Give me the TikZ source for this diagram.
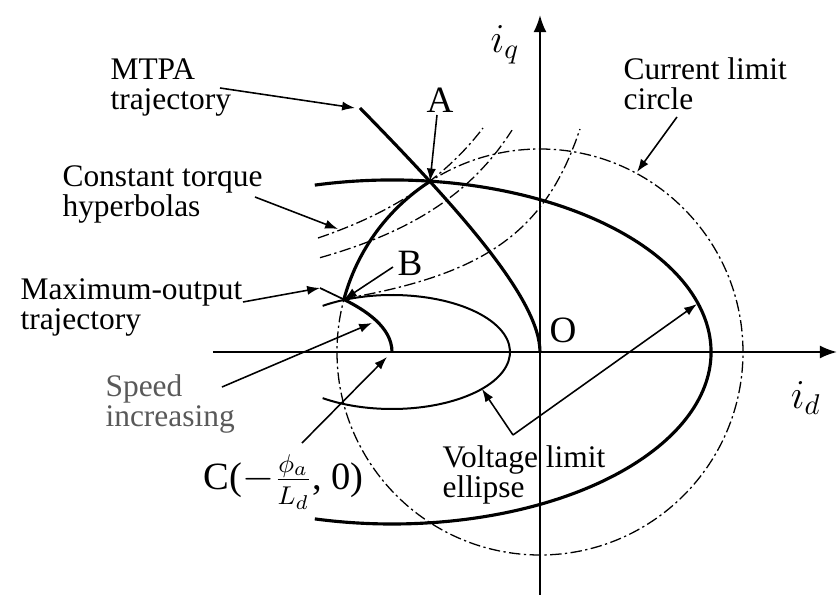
\documentclass[tikz,border=0pt]{standalone}
\usepackage{fontspec}
\setmainfont{Liberation Serif}
\usetikzlibrary{arrows.meta,calc}

\tikzset{
  curve/.style={line width=1.1pt},
  thincurve/.style={line width=0.7pt},
  torque/.style={line width=0.45pt,dash pattern=on 4pt off 1.2pt on 0.8pt off 1.2pt},
  lead/.style={line width=0.55pt,-{Latex[length=4.5pt,width=3.2pt]}},
  axis/.style={line width=0.75pt,-{Latex[length=6pt,width=4.6pt]}},
  lbl/.style={font=\fontsize{11}{10.8}\selectfont,align=left,inner sep=0pt,anchor=base west},
  pt/.style={font=\fontsize{13}{14}\selectfont,inner sep=0pt},
}

\begin{document}
\begin{tikzpicture}[x=0.35pt,y=0.35pt]
\useasboundingbox (-540,-247) rectangle (299,352);
\coordinate (O) at (0,0);
\coordinate (C) at (-148,0);
\coordinate (A) at (122.8:203);
\coordinate (B) at (165:203);
\coordinate (Bx) at (-220,64);
\coordinate (M) at (-180,244);
\coordinate (xs) at (-327,0);
\coordinate (xe) at (297,0);
\coordinate (ys) at (0,-243);
\coordinate (ye) at (0,337);
\draw[axis] (xs) -- (xe);
\draw[axis] (ys) -- (ye);
\draw[torque] (O) circle[radius=203];
\draw[torque] plot[domain=-222:-57,samples=40] (\x,{383/(1.14-\x/100)});
\draw[torque] plot[domain=-220:-28,samples=40] (\x,{315/(1.14-\x/100)});
\draw[torque] plot[domain=-196:40,samples=50] (\x,{165/(1.14-\x/100)});
\draw[curve] (C) ++(104:319 and 172) arc[start angle=104,end angle=-104,x radius=319,y radius=172];
\draw[thincurve] (C) ++(126:118 and 57) arc[start angle=126,end angle=-126,x radius=118,y radius=57];
\draw[curve] (O) .. controls (0,52) and (-80,142) .. (M);
\draw[curve] (A) arc[start angle=122.8,end angle=165,radius=203];
\draw[curve] (B) .. controls (-175,42) and (-148,25) .. (C);
\draw[line width=0.6pt] (Bx) -- (B);
\node[lbl] (mtpa) at (-430,242) {MTPA\\trajectory};
\node[lbl] (torq) at (-478,135) {Constant torque\\hyperbolas};
\node[lbl] (mout) at (-520,22) {Maximum-output\\trajectory};
\node[lbl,text=black!65] (spd) at (-435,-75) {Speed\\increasing};
\node[lbl] (volt) at (-98,-146) {Voltage limit\\ellipse};
\node[lbl] (curr) at (83,242) {Current limit\\circle};
\node[pt] (la) at (-100,252) {A};
\node[pt] (lb) at (-130,89) {B};
\node[pt] (lo) at (23,22) {O};
\node[font=\Large,inner sep=0pt] (liq) at (-35,307) {$i_q$};
\node[font=\Large,inner sep=0pt] (lid) at (266,-46) {$i_d$};
\node[anchor=west,inner sep=0pt,font=\fontsize{13.5}{16}\selectfont] (lc) at (-337,-130) {C($-\frac{\phi_a}{L_d}$, 0)};
\coordinate (mtpa1) at (-320,264);
\coordinate (torq1) at (-285,155);
\coordinate (torq2) at (-202,123);
\coordinate (mout1) at (-297,50);
\coordinate (spd1) at (-318,-35);
\coordinate (spd2) at (-168,29);
\coordinate (lc1) at (-238,-91);
\coordinate (lc2) at (-153,-5);
\coordinate (la1) at (-103,237);
\coordinate (lb1) at (-147,85);
\coordinate (volt1) at (-27,-83);
\coordinate (volt2) at (-58,-37);
\coordinate (volt3) at (157,48);
\coordinate (curr1) at (137,235);
\coordinate (curr2) at (97,180);
\draw[lead] (mtpa1) -- ($(M)+(-5,0)$);
\draw[lead] (torq1) -- (torq2);
\draw[lead] (mout1) -- (Bx);
\draw[lead] (spd1) -- (spd2);
\draw[lead] (lc1) -- (lc2);
\draw[lead] (la1) -- (A);
\draw[lead] (lb1) -- (B);
\draw[lead] (volt1) -- (volt2);
\draw[lead] (volt1) -- (volt3);
\draw[lead] (curr1) -- (curr2);
\end{tikzpicture}
\end{document}
